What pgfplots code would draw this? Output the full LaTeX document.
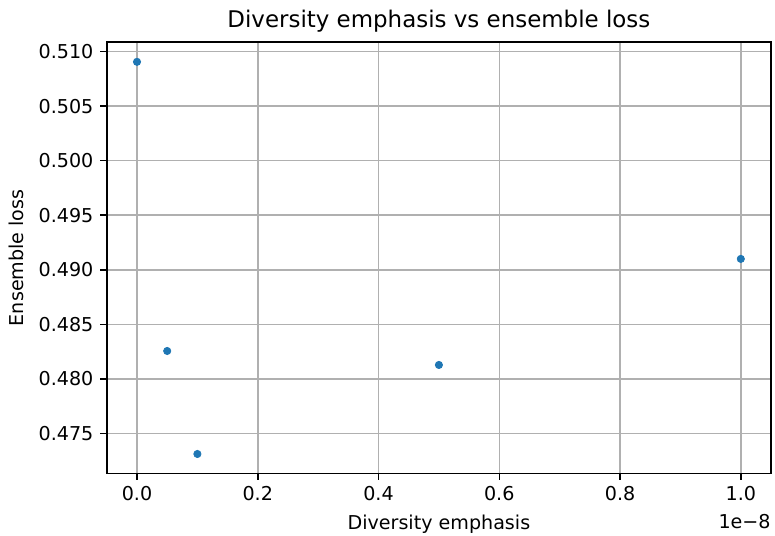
\documentclass[border=0pt]{standalone}
\usepackage{fontspec}
\setmainfont{DejaVu Sans}
\usepackage{pgfplots}
\pgfplotsset{compat=1.18}
\definecolor{mplblue}{HTML}{1F77B4}
\definecolor{gridgray}{HTML}{B0B0B0}
\begin{document}
\begin{tikzpicture}
\begin{axis}[
  name=ax,
  at={(0,0)}, anchor=south west,
  width=347.6pt, height=225.6pt, scale only axis,
  xmin=-0.05e-8, xmax=1.05e-8,
  ymin=0.47135, ymax=0.51086,
  xtick={0,0.2e-8,0.4e-8,0.6e-8,0.8e-8,1.0e-8},
  xticklabels={0.0,0.2,0.4,0.6,0.8,1.0},
  scaled x ticks=false,
  ytick={0.475,0.480,0.485,0.490,0.495,0.500,0.505,0.510},
  yticklabels={0.475,0.480,0.485,0.490,0.495,0.500,0.505,0.510},
  grid=major,
  major grid style={color=gridgray, line width=0.8pt},
  axis line style={line width=0.8pt},
  tick style={line width=0.8pt, black},
  tick align=outside, major tick length=3.5pt,
  xtick pos=bottom, ytick pos=left,
  tick label style={font=\fontsize{10}{12}\selectfont},
  /pgf/number format/assume math mode=true,
  xlabel={Diversity emphasis}, ylabel={Ensemble loss},
  label style={font=\fontsize{10}{12}\selectfont},
  xlabel style={at={(axis description cs:0.5,0)}, anchor=north, yshift=-18.5pt},
  ylabel style={at={(axis description cs:-0.115,0.5)}, anchor=south, rotate=0},
  title={Diversity emphasis vs ensemble loss},
  title style={font=\fontsize{12}{14}\selectfont, at={(axis description cs:0.5,1)}, anchor=base, inner sep=0pt, yshift=1.5pt},
]
\addplot[only marks, mark=*, mark size=1.9pt, mark options={draw=mplblue, fill=mplblue}] coordinates {
  (0, 0.50906)
  (0.05e-8, 0.48256)
  (0.1e-8, 0.47312)
  (0.5e-8, 0.48128)
  (1.0e-8, 0.49100)
};
\end{axis}
\node[anchor=north east, font=\fontsize{10}{12}\selectfont, inner sep=0pt] at (347.6pt,-21.5pt) {1e−8};
\pgfresetboundingbox
\path[use as bounding box] (-55.9pt,-32.8pt) rectangle (349.7pt,247.7pt);
\end{tikzpicture}
\end{document}
